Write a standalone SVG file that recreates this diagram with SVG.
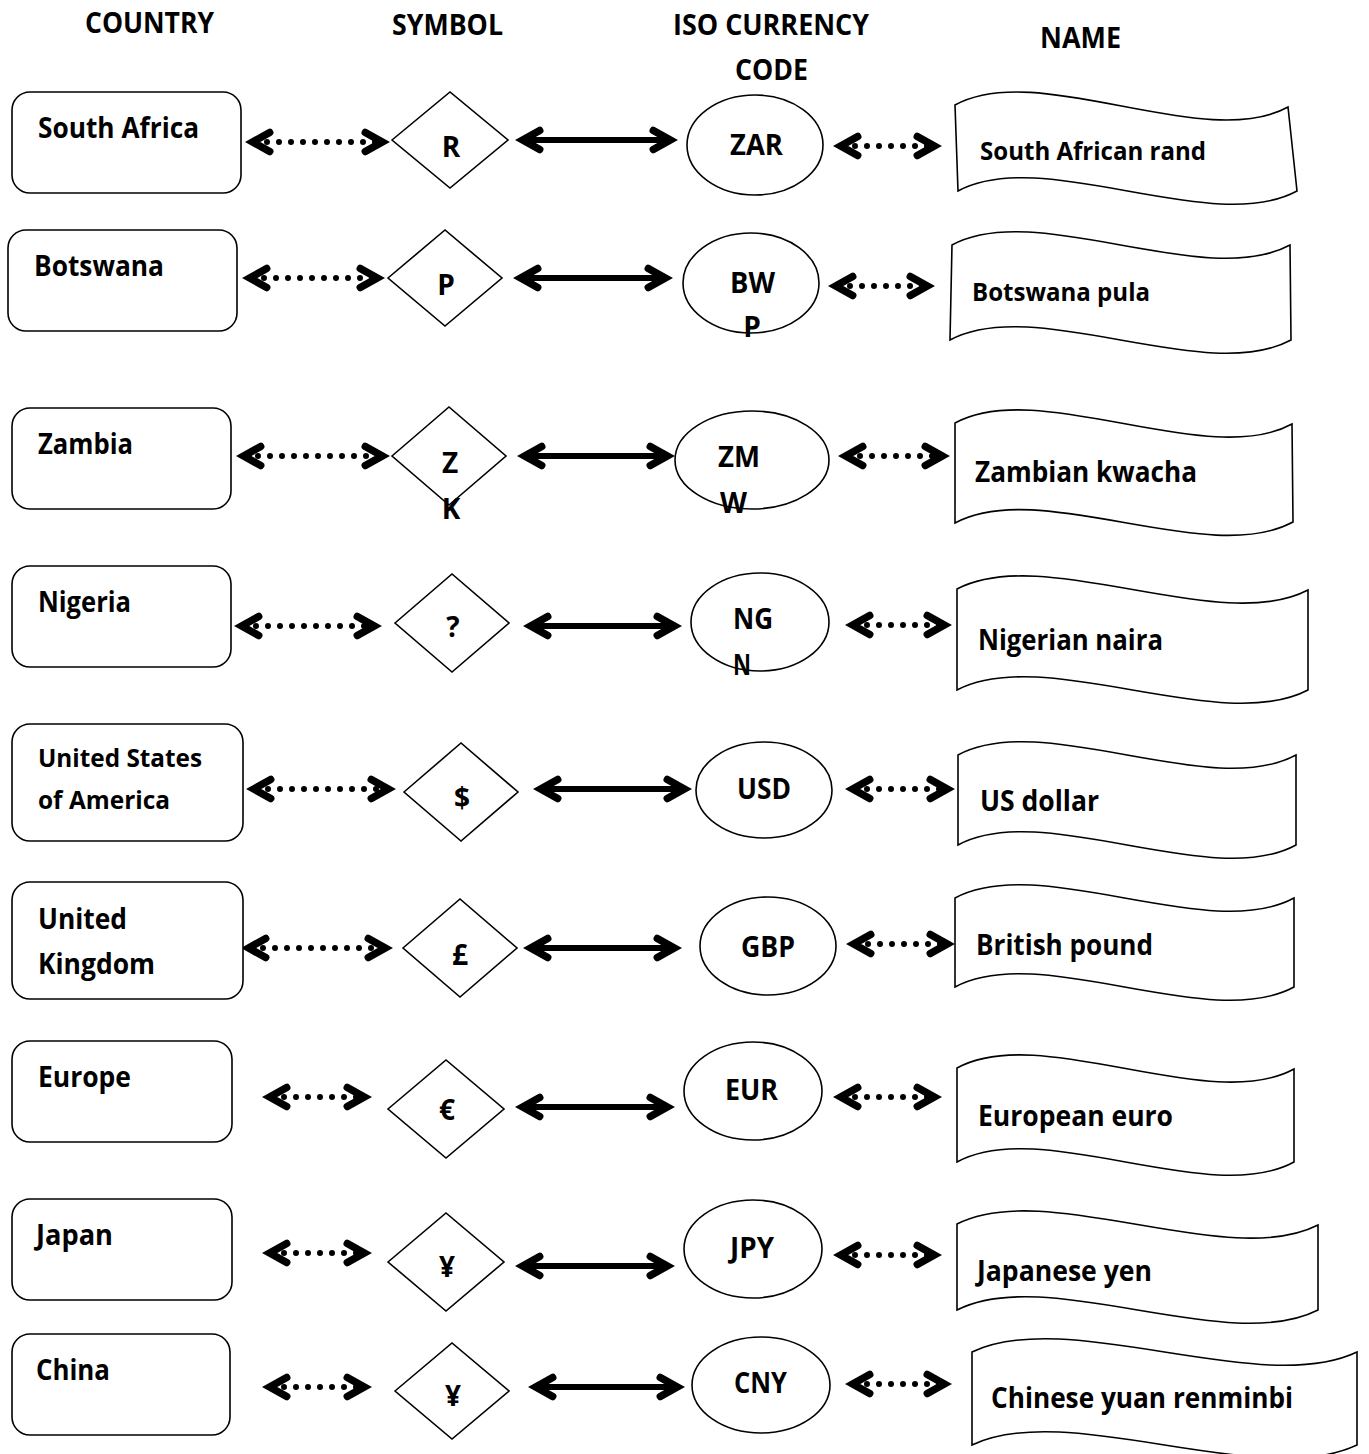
<svg xmlns="http://www.w3.org/2000/svg" width="1369" height="1454" viewBox="0 0 1369 1454">
<style>
.t{font-family:"Open Sans","Noto Sans","Liberation Sans",sans-serif;font-weight:700;fill:#000}
.b{font-size:28px}
.s{font-size:25px}
.m{text-anchor:middle}
.box{fill:#fff;stroke:#000;stroke-width:1.6}
.dot{stroke:#000;stroke-width:6;stroke-linecap:round;stroke-dasharray:0 12;fill:none}
.sol{stroke:#000;stroke-width:6;fill:none}
</style>
<defs>
<marker id="hd" markerUnits="userSpaceOnUse" orient="auto-start-reverse" overflow="visible" refX="0" refY="0" markerWidth="40" markerHeight="40">
<path d="M-14.7,-9.5 L2.3,0 L-14.7,9.5" fill="none" stroke="#000" stroke-width="7.5" stroke-linecap="round" stroke-linejoin="miter"/>
</marker>
</defs>
<rect width="1369" height="1454" fill="#fff"/>

<g id="headers">
<text class="t b" x="85" y="33" textLength="129" lengthAdjust="spacingAndGlyphs">COUNTRY</text>
<text class="t b" x="392" y="35" textLength="111" lengthAdjust="spacingAndGlyphs">SYMBOL</text>
<text class="t b" x="673" y="35" textLength="196" lengthAdjust="spacingAndGlyphs">ISO CURRENCY</text>
<text class="t b" x="735" y="80" textLength="73" lengthAdjust="spacingAndGlyphs">CODE</text>
<text class="t b" x="1040" y="48" textLength="81" lengthAdjust="spacingAndGlyphs">NAME</text>
</g>

<g id="connectors">
<line class="dot" x1="255" y1="142" x2="380" y2="142" marker-start="url(#hd)" marker-end="url(#hd)"/>
<line class="sol" x1="525" y1="140" x2="668" y2="140" marker-start="url(#hd)" marker-end="url(#hd)"/>
<line class="dot" x1="843" y1="146" x2="932" y2="146" marker-start="url(#hd)" marker-end="url(#hd)"/>

<line class="dot" x1="252" y1="278" x2="375" y2="278" marker-start="url(#hd)" marker-end="url(#hd)"/>
<line class="sol" x1="523" y1="278" x2="663" y2="278" marker-start="url(#hd)" marker-end="url(#hd)"/>
<line class="dot" x1="838" y1="286" x2="925" y2="286" marker-start="url(#hd)" marker-end="url(#hd)"/>

<line class="dot" x1="246" y1="456" x2="380" y2="456" marker-start="url(#hd)" marker-end="url(#hd)"/>
<line class="sol" x1="527" y1="456" x2="665" y2="456" marker-start="url(#hd)" marker-end="url(#hd)"/>
<line class="dot" x1="848" y1="456" x2="940" y2="456" marker-start="url(#hd)" marker-end="url(#hd)"/>

<line class="dot" x1="244" y1="626" x2="372" y2="626" marker-start="url(#hd)" marker-end="url(#hd)"/>
<line class="sol" x1="533" y1="626" x2="672" y2="626" marker-start="url(#hd)" marker-end="url(#hd)"/>
<line class="dot" x1="855" y1="625" x2="942" y2="625" marker-start="url(#hd)" marker-end="url(#hd)"/>

<line class="dot" x1="256" y1="789" x2="386" y2="789" marker-start="url(#hd)" marker-end="url(#hd)"/>
<line class="sol" x1="543" y1="789" x2="682" y2="789" marker-start="url(#hd)" marker-end="url(#hd)"/>
<line class="dot" x1="855" y1="789" x2="945" y2="789" marker-start="url(#hd)" marker-end="url(#hd)"/>

<line class="dot" x1="251" y1="948" x2="383" y2="948" marker-start="url(#hd)" marker-end="url(#hd)"/>
<line class="sol" x1="533" y1="948" x2="672" y2="948" marker-start="url(#hd)" marker-end="url(#hd)"/>
<line class="dot" x1="856" y1="944" x2="945" y2="944" marker-start="url(#hd)" marker-end="url(#hd)"/>

<line class="dot" x1="272" y1="1097" x2="362" y2="1097" marker-start="url(#hd)" marker-end="url(#hd)"/>
<line class="sol" x1="525" y1="1107" x2="665" y2="1107" marker-start="url(#hd)" marker-end="url(#hd)"/>
<line class="dot" x1="843" y1="1097" x2="932" y2="1097" marker-start="url(#hd)" marker-end="url(#hd)"/>

<line class="dot" x1="272" y1="1253" x2="362" y2="1253" marker-start="url(#hd)" marker-end="url(#hd)"/>
<line class="sol" x1="525" y1="1266" x2="665" y2="1266" marker-start="url(#hd)" marker-end="url(#hd)"/>
<line class="dot" x1="843" y1="1255" x2="932" y2="1255" marker-start="url(#hd)" marker-end="url(#hd)"/>

<line class="dot" x1="272" y1="1387" x2="362" y2="1387" marker-start="url(#hd)" marker-end="url(#hd)"/>
<line class="sol" x1="538" y1="1387" x2="675" y2="1387" marker-start="url(#hd)" marker-end="url(#hd)"/>
<line class="dot" x1="855" y1="1384" x2="942" y2="1384" marker-start="url(#hd)" marker-end="url(#hd)"/>
</g>

<!-- Row 1 -->
<g id="country-south-africa"><rect class="box" x="12" y="92" width="229" height="101" rx="18"/><text class="t b" x="38" y="138" textLength="161" lengthAdjust="spacingAndGlyphs">South Africa</text></g>
<g id="symbol-r"><polygon class="box" points="392,140 450,92 508,140 450,188"/><text class="t b m" x="451" y="157">R</text></g>
<g id="code-zar"><ellipse class="box" cx="755" cy="145" rx="68" ry="50"/><text class="t b" x="730" y="155" textLength="53" lengthAdjust="spacingAndGlyphs">ZAR</text></g>
<g id="name-zar"><path class="box" d="M955,105 C1038,59 1205,153 1288,107 L1297,191 C1212,237 1043,145 958,191 Z"/><text class="t s" x="980" y="160" textLength="226" lengthAdjust="spacingAndGlyphs">South African rand</text></g>

<!-- Row 2 -->
<g id="country-botswana"><rect class="box" x="8" y="230" width="229" height="101" rx="18"/><text class="t b" x="34" y="276" textLength="130" lengthAdjust="spacingAndGlyphs">Botswana</text></g>
<g id="symbol-p"><polygon class="box" points="388,278 445,230 502,278 445,326"/><text class="t b m" x="446" y="295">P</text></g>
<g id="code-bwp"><ellipse class="box" cx="751" cy="283" rx="68" ry="50"/><text class="t b" x="730" y="293" textLength="45" lengthAdjust="spacingAndGlyphs">BW</text><text class="t b m" x="752" y="337">P</text></g>
<g id="name-bwp"><path class="box" d="M952,245 C1036,199 1205,291 1290,245 L1291,340 C1206,386 1035,294 950,340 Z"/><text class="t s" x="972" y="301" textLength="178" lengthAdjust="spacingAndGlyphs">Botswana pula</text></g>

<!-- Row 3 -->
<g id="country-zambia"><rect class="box" x="12" y="408" width="219" height="101" rx="18"/><text class="t b" x="38" y="454" textLength="95" lengthAdjust="spacingAndGlyphs">Zambia</text></g>
<g id="symbol-zk"><polygon class="box" points="392,456 449,407 506,456 449,505"/><text class="t b m" x="450" y="473">Z</text><text class="t b m" x="451" y="519">K</text></g>
<g id="code-zmw"><ellipse class="box" cx="752" cy="460" rx="77" ry="49"/><text class="t b" x="718" y="467" textLength="42" lengthAdjust="spacingAndGlyphs">ZM</text><text class="t b" x="720" y="513" textLength="27" lengthAdjust="spacingAndGlyphs">W</text></g>
<g id="name-zmw"><path class="box" d="M955,423 C1039,377 1208,470 1292,424 L1293,522 C1208,568 1040,477 955,523 Z"/><text class="t b" x="975" y="482" textLength="222" lengthAdjust="spacingAndGlyphs">Zambian kwacha</text></g>

<!-- Row 4 -->
<g id="country-nigeria"><rect class="box" x="12" y="566" width="219" height="101" rx="18"/><text class="t b" x="38" y="612" textLength="93" lengthAdjust="spacingAndGlyphs">Nigeria</text></g>
<g id="symbol-q"><polygon class="box" points="395,623 452,574 509,623 452,672"/><text class="t b m" x="453" y="637">?</text></g>
<g id="code-ngn"><ellipse class="box" cx="760" cy="622" rx="69" ry="49"/><text class="t b" x="733" y="629" textLength="40" lengthAdjust="spacingAndGlyphs">NG</text><text class="t b" x="733" y="675" textLength="18" lengthAdjust="spacingAndGlyphs">N</text></g>
<g id="name-ngn"><path class="box" d="M957,589 C1045,543 1220,636 1308,590 L1308,690 C1220,736 1045,644 957,690 Z"/><text class="t b" x="978" y="650" textLength="185" lengthAdjust="spacingAndGlyphs">Nigerian naira</text></g>

<!-- Row 5 -->
<g id="country-usa"><rect class="box" x="12" y="724" width="231" height="117" rx="18"/><text class="t s" x="38" y="767" textLength="164" lengthAdjust="spacingAndGlyphs">United States</text><text class="t s" x="38" y="809" textLength="132" lengthAdjust="spacingAndGlyphs">of America</text></g>
<g id="symbol-usd"><polygon class="box" points="404,792 461,743 518,792 461,841"/><text class="t b m" x="462" y="808">$</text></g>
<g id="code-usd"><ellipse class="box" cx="764" cy="790" rx="68" ry="48"/><text class="t b" x="737" y="799" textLength="54" lengthAdjust="spacingAndGlyphs">USD</text></g>
<g id="name-usd"><path class="box" d="M958,755 C1042,709 1212,801 1296,755 L1296,845 C1212,891 1042,799 958,845 Z"/><text class="t b" x="980" y="811" textLength="119" lengthAdjust="spacingAndGlyphs">US dollar</text></g>

<!-- Row 6 -->
<g id="country-uk"><rect class="box" x="12" y="882" width="231" height="117" rx="18"/><text class="t b" x="38" y="929" textLength="89" lengthAdjust="spacingAndGlyphs">United</text><text class="t b" x="38" y="974" textLength="117" lengthAdjust="spacingAndGlyphs">Kingdom</text></g>
<g id="symbol-gbp"><polygon class="box" points="403,948 460,899 517,948 460,997"/><text class="t b m" x="460" y="965">£</text></g>
<g id="code-gbp"><ellipse class="box" cx="768" cy="946" rx="68" ry="49"/><text class="t b" x="741" y="957" textLength="54" lengthAdjust="spacingAndGlyphs">GBP</text></g>
<g id="name-gbp"><path class="box" d="M955,898 C1040,852 1209,944 1294,898 L1294,987 C1209,1033 1040,941 955,987 Z"/><text class="t b" x="976" y="955" textLength="177" lengthAdjust="spacingAndGlyphs">British pound</text></g>

<!-- Row 7 -->
<g id="country-europe"><rect class="box" x="12" y="1041" width="220" height="101" rx="18"/><text class="t b" x="38" y="1087" textLength="93" lengthAdjust="spacingAndGlyphs">Europe</text></g>
<g id="symbol-eur"><polygon class="box" points="388,1109 446,1060 504,1109 446,1158"/><text class="t b m" x="447" y="1120">€</text></g>
<g id="code-eur"><ellipse class="box" cx="753" cy="1091" rx="69" ry="49"/><text class="t b" x="725" y="1100" textLength="53" lengthAdjust="spacingAndGlyphs">EUR</text></g>
<g id="name-eur"><path class="box" d="M957,1068 C1041,1022 1210,1115 1294,1069 L1294,1162 C1210,1208 1041,1116 957,1162 Z"/><text class="t b" x="978" y="1126" textLength="195" lengthAdjust="spacingAndGlyphs">European euro</text></g>

<!-- Row 8 -->
<g id="country-japan"><rect class="box" x="12" y="1199" width="220" height="101" rx="18"/><text class="t b" x="36" y="1245" textLength="77" lengthAdjust="spacingAndGlyphs">Japan</text></g>
<g id="symbol-jpy"><polygon class="box" points="388,1262 446,1213 504,1262 446,1311"/><text class="t b m" x="447" y="1277">¥</text></g>
<g id="code-jpy"><ellipse class="box" cx="753" cy="1249" rx="69" ry="49"/><text class="t b" x="730" y="1258" textLength="44" lengthAdjust="spacingAndGlyphs">JPY</text></g>
<g id="name-jpy"><path class="box" d="M957,1224 C1047,1178 1228,1271 1318,1225 L1318,1310 C1228,1356 1047,1264 957,1310 Z"/><text class="t b" x="977" y="1281" textLength="175" lengthAdjust="spacingAndGlyphs">Japanese yen</text></g>

<!-- Row 9 -->
<g id="country-china"><rect class="box" x="12" y="1334" width="218" height="101" rx="18"/><text class="t b" x="36" y="1380" textLength="74" lengthAdjust="spacingAndGlyphs">China</text></g>
<g id="symbol-cny"><polygon class="box" points="395,1391 452,1343 509,1391 452,1439"/><text class="t b m" x="453" y="1406">¥</text></g>
<g id="code-cny"><ellipse class="box" cx="761" cy="1385" rx="69" ry="48"/><text class="t b" x="734" y="1393" textLength="53" lengthAdjust="spacingAndGlyphs">CNY</text></g>
<g id="name-cny"><path class="box" d="M972,1352 C1068,1306 1261,1398 1357,1352 L1357,1445 C1261,1491 1068,1399 972,1445 Z"/><text class="t b" x="991" y="1408" textLength="302" lengthAdjust="spacingAndGlyphs">Chinese yuan renminbi</text></g>
</svg>
